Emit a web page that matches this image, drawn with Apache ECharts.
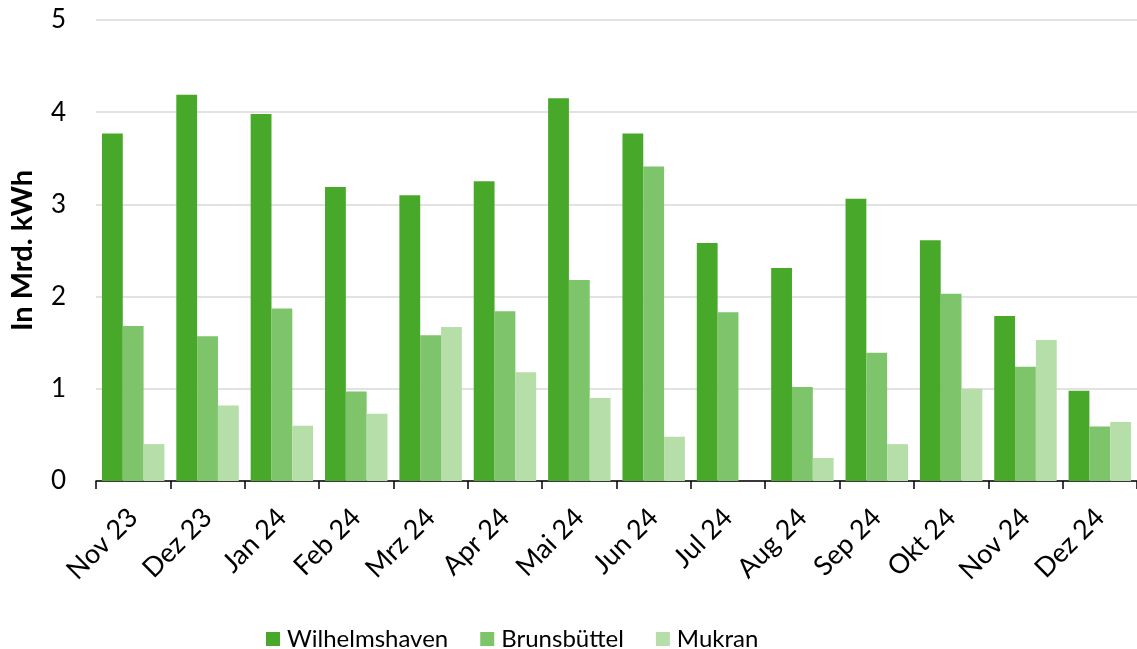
<!DOCTYPE html>
<html>
<head>
<meta charset="utf-8">
<script src="https://cdn.jsdelivr.net/npm/echarts@6/dist/echarts.min.js"></script>
<style>
html, body { margin: 0; padding: 0; background: #fff; }
#chart { width: 1137px; height: 649px; }
</style>
</head>
<body>
<div id="chart"></div>
<script>
// Monate
var months = ['Nov 23', 'Dez 23', 'Jan 24', 'Feb 24', 'Mrz 24', 'Apr 24', 'Mai 24',
    'Jun 24', 'Jul 24', 'Aug 24', 'Sep 24', 'Okt 24', 'Nov 24', 'Dez 24'];
// Werte in Mrd. kWh
var wilhelmshaven = [3.77, 4.19, 3.98, 3.19, 3.10, 3.25, 4.15, 3.77, 2.58, 2.31, 3.06, 2.61, 1.79, 0.98];
var brunsbuettel = [1.68, 1.57, 1.87, 0.97, 1.58, 1.84, 2.18, 3.41, 1.83, 1.02, 1.39, 2.03, 1.24, 0.59];
var mukran = [0.40, 0.82, 0.60, 0.73, 1.67, 1.18, 0.90, 0.48, 0, 0.25, 0.40, 1.00, 1.53, 0.64];
var yTicks = [0, 1, 2, 3, 4, 5];

var font = 'Lato, "Open Sans", sans-serif';
var chart = echarts.init(document.getElementById('chart'));

function barSeries(name, data, color) {
    return {
        name: name,
        type: 'bar',
        data: data,
        barGap: 0,
        barCategoryGap: '16%',
        itemStyle: { color: color },
        emphasis: { disabled: true }
    };
}

var option = {
    animation: false,
    grid: {
        left: 93,
        right: 0,
        top: 20,
        bottom: 168,
        containLabel: false
    },
    legend: {
        top: 622,
        left: 261,
        itemWidth: 14,
        itemHeight: 14,
        itemGap: 32,
        icon: 'rect',
        textStyle: { fontFamily: font, fontSize: 24, color: '#000', padding: [0, 0, 0, 2] },
        data: ['Wilhelmshaven', 'Brunsbüttel', 'Mukran']
    },
    xAxis: {
        type: 'category',
        data: months,
        boundaryGap: true,
        axisLine: { lineStyle: { color: '#000', width: 1.5 } },
        axisTick: { show: true, length: 8, lineStyle: { color: '#000', width: 1.5 } },
        axisLabel: {
            interval: 0,
            rotate: 45,
            margin: 32,
            color: '#000',
            fontFamily: font,
            fontSize: 27
        }
    },
    yAxis: {
        type: 'value',
        min: yTicks[0],
        max: yTicks[yTicks.length - 1],
        interval: 1,
        name: 'In Mrd. kWh',
        nameLocation: 'middle',
        nameGap: 59,
        nameTextStyle: { fontFamily: font, fontSize: 29, fontWeight: 'bold', color: '#000' },
        axisLine: { show: false },
        axisTick: { show: false },
        axisLabel: { margin: 30, color: '#000', fontFamily: font, fontSize: 26 },
        splitLine: { lineStyle: { color: '#d9d9d9', width: 1.5 } }
    },
    series: [
        barSeries('Wilhelmshaven', wilhelmshaven, '#48a82a'),
        barSeries('Brunsbüttel', brunsbuettel, '#7dc46a'),
        barSeries('Mukran', mukran, '#b5dea8')
    ]
};
chart.setOption(option);
</script>
</body>
</html>
